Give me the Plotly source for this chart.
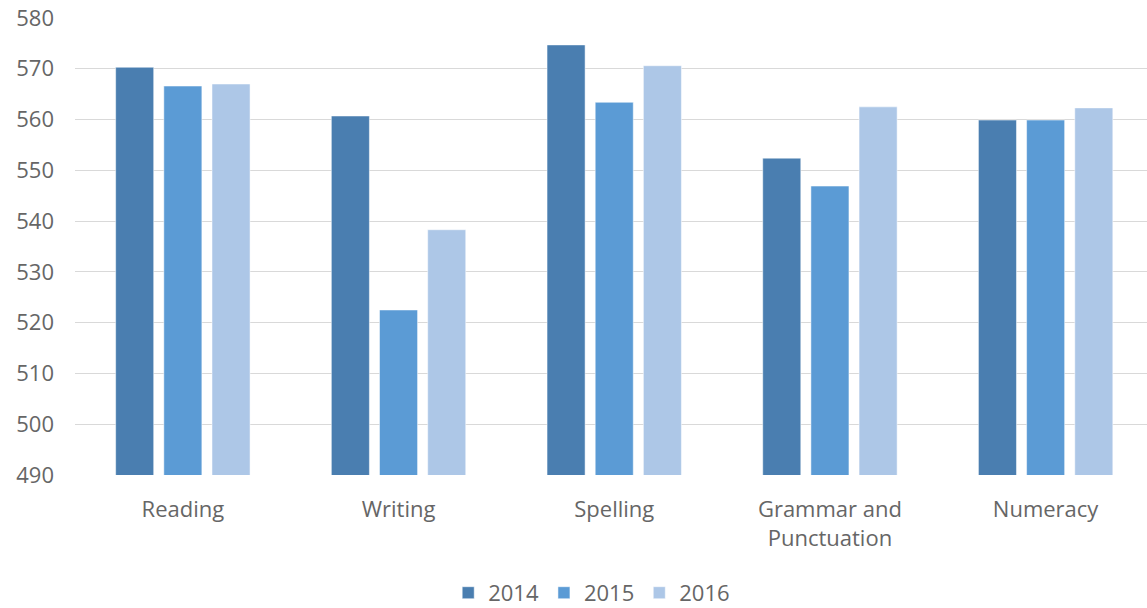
import plotly.graph_objects as go

categories = ["Reading", "Writing", "Spelling", "Grammar and<br>Punctuation", "Numeracy"]
years = ["2014", "2015", "2016"]
values_2014 = [570.3, 560.7, 574.7, 552.4, 559.9]
values_2015 = [566.6, 522.5, 563.4, 546.9, 559.9]
values_2016 = [567.0, 538.3, 570.6, 562.5, 562.3]
colors = ["#4a7eb0", "#5b9bd5", "#adc7e7"]

series = [values_2014, values_2015, values_2016]

fig = go.Figure()
for name, vals, col in zip(years, series, colors):
    fig.add_trace(go.Bar(
        x=categories, y=vals, name=name,
        marker=dict(color=col, line=dict(color="white", width=0.5)),
    ))

font_family = "Open Sans"
txt = "#666666"
fig.update_layout(
    width=1147, height=608,
    margin=dict(l=75, r=0, t=18, b=133, autoexpand=False),
    plot_bgcolor="white", paper_bgcolor="white",
    barmode="group", bargap=0.33, bargroupgap=0.21,
    font=dict(family=font_family, size=22, color=txt),
    showlegend=True,
    legend=dict(orientation="h", x=0.482, xanchor="center", y=-0.258, yanchor="middle",
                font=dict(size=22, color=txt), itemwidth=30, traceorder="normal"),
    yaxis=dict(range=[490, 580], dtick=10, tick0=490, showgrid=True, gridcolor="#d9d9d9",
               gridwidth=1.3, zeroline=False, showline=False, ticks="", ticklabelstandoff=20,
               tickfont=dict(size=22), automargin=False),
    xaxis=dict(range=[-0.5, 4.47], showgrid=False, showline=False, ticks="", ticklabelstandoff=19,
               tickfont=dict(size=22), automargin=False),
)

fig.write_html("out.html")
